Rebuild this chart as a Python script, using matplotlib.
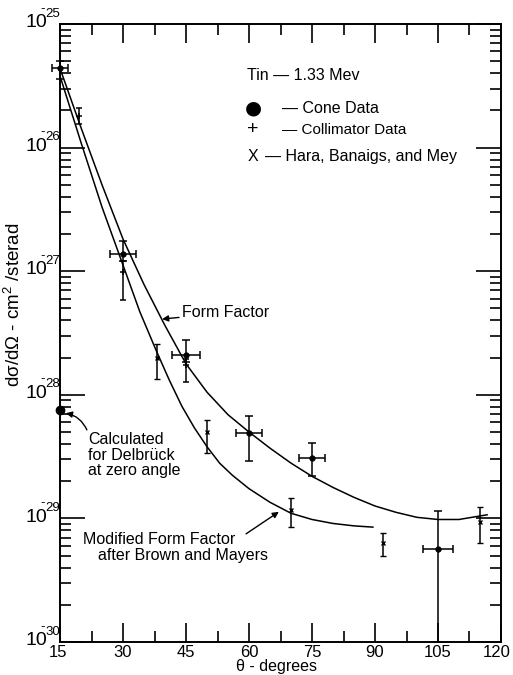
import matplotlib
matplotlib.use('Agg')
import matplotlib.pyplot as plt
import numpy as np
from matplotlib.ticker import FixedLocator, NullFormatter, LogLocator

plt.rcParams['font.family'] = ['Liberation Sans', 'DejaVu Sans']
plt.rcParams['mathtext.fontset'] = 'custom'
plt.rcParams['mathtext.rm'] = 'Liberation Sans'
plt.rcParams['mathtext.it'] = 'Liberation Sans:italic'
plt.rcParams['mathtext.bf'] = 'Liberation Sans:bold'

# ---------------- data ----------------
cone_theta = [15, 30, 45, 60, 75, 105]
cone_val = [4.4e-26, 1.38e-27, 2.1e-28, 4.9e-29, 3.1e-29, 5.7e-30]
cone_hi = [5.0e-26, 1.74e-27, 2.8e-28, 6.7e-29, 4.1e-29, 1.15e-29]
cone_lo = [3.6e-26, 1.2e-27, 1.85e-28, 2.9e-29, 2.2e-29, 1.0e-30]
cone_dtheta = [1.8, 3.0, 3.3, 3.1, 3.1, 3.6]

coll_theta = [19.5, 30, 45]
coll_val = [1.8e-26, 9.9e-28, 1.74e-28]
coll_hi = [2.1e-26, 1.2e-27, 1.95e-28]
coll_lo = [1.55e-26, 5.9e-28, 1.26e-28]

hara_theta = [38, 50, 70, 92, 115]
hara_val = [2.0e-28, 5.0e-29, 1.17e-29, 6.3e-30, 9.3e-30]
hara_hi = [2.6e-28, 6.3e-29, 1.47e-29, 7.6e-30, 1.23e-29]
hara_lo = [1.35e-28, 3.4e-29, 8.5e-30, 5.0e-30, 6.3e-30]

delbruck_theta = [15]
delbruck_val = [7.6e-29]

ff_theta = [15, 20, 25, 30, 35, 40, 45, 50, 55, 60, 65, 70, 75, 80, 85, 90, 95, 100, 105, 110, 116.7]
ff_val = [4.37e-26, 1.45e-26, 5.0e-27, 1.82e-27, 7.8e-28, 3.63e-28, 1.78e-28, 1.05e-28, 6.9e-29,
          5.0e-29, 3.7e-29, 2.8e-29, 2.19e-29, 1.78e-29, 1.48e-29, 1.26e-29, 1.12e-29, 1.02e-29,
          9.8e-30, 9.8e-30, 1.07e-29]

mff_theta = [15, 20, 25, 30, 34, 38, 41, 44, 47, 50, 53, 56, 60, 65, 70, 75, 80, 85, 89.5]
mff_val = [3.8e-26, 1.1e-26, 3.3e-27, 1.12e-27, 4.7e-28, 2.24e-28, 1.32e-28, 8.1e-29, 5.4e-29,
           3.8e-29, 2.8e-29, 2.24e-29, 1.74e-29, 1.35e-29, 1.1e-29, 9.8e-30, 9.1e-30, 8.7e-30, 8.5e-30]

x_ticks = [15, 30, 45, 60, 75, 90, 105, 120]
x_ticklabels = ['15', '30', '45', '60', '75', '90', '105', '120']
y_decades = [1e-30, 1e-29, 1e-28, 1e-27, 1e-26, 1e-25]
y_exponents = ['30', '29', '28', '27', '26', '25']

# ---------------- figure ----------------
fig = plt.figure(figsize=(5.13, 6.75), dpi=100)
ax = fig.add_axes([0.117, 0.0489, 0.8596, 0.9155])
ax.set_yscale('log')
ax.set_xlim(15, 120)
ax.set_ylim(1e-30, 1e-25)

lw = 1.1
ax.plot(ff_theta, ff_val, color='black', lw=lw)
ax.plot(mff_theta, mff_val, color='black', lw=lw)

def asym(v, lo, hi):
    v = np.array(v); return [v - np.array(lo), np.array(hi) - v]

ax.errorbar(cone_theta, cone_val, yerr=asym(cone_val, cone_lo, cone_hi),
            xerr=cone_dtheta, fmt='o', ms=3.5, color='black', ecolor='black',
            elinewidth=1.1, capsize=3, capthick=1.1, clip_on=False)
ax.errorbar(coll_theta, coll_val, yerr=asym(coll_val, coll_lo, coll_hi),
            fmt='+', ms=5, mew=1.1, color='black', elinewidth=1.1, capsize=2.2, capthick=1.1)
ax.errorbar(hara_theta, hara_val, yerr=asym(hara_val, hara_lo, hara_hi),
            fmt='x', ms=3, mew=1.0, color='black', elinewidth=1.1, capsize=2.2, capthick=1.1)
ax.plot(delbruck_theta, delbruck_val, 'o', ms=6, color='black', clip_on=False, zorder=5)

# ticks
ax.xaxis.set_major_locator(FixedLocator(x_ticks))
ax.xaxis.set_minor_locator(FixedLocator([t + 7.5 for t in x_ticks[:-1]]))
ax.yaxis.set_major_locator(FixedLocator(y_decades))
ax.yaxis.set_minor_locator(LogLocator(base=10, subs=np.arange(2, 10), numticks=50))
ax.yaxis.set_minor_formatter(NullFormatter())
ax.tick_params(which='both', direction='in', top=True, right=True, width=1.2,
               labelleft=False, labelbottom=False)
ax.tick_params(axis='x', which='major', length=14)
ax.tick_params(axis='x', which='minor', length=8)
ax.tick_params(axis='y', which='major', length=18)
ax.tick_params(axis='y', which='minor', length=8)
for s in ax.spines.values():
    s.set_linewidth(1.4)

# manual tick labels (offsets in points; 1 px = 0.72 pt)
for xv, lab in zip(x_ticks, x_ticklabels):
    dx = -3.0 if lab == '120' else (-1.2 if lab == '15' else 0)
    ax.annotate(lab, xy=(xv, 0), xycoords=('data', 'axes fraction'),
                xytext=(dx, -2.2), textcoords='offset points', ha='center', va='top',
                fontsize=12, annotation_clip=False)
for yv, ex in zip(y_decades, y_exponents):
    ax.annotate('10', xy=(0, yv), xycoords=('axes fraction', 'data'),
                xytext=(-9.4, 1.0), textcoords='offset points', ha='right', va='center',
                fontsize=14, annotation_clip=False)
    ax.annotate(ex, xy=(0, yv), xycoords=('axes fraction', 'data'),
                xytext=(-10.5, 7.5), textcoords='offset points', ha='left', va='center',
                fontsize=9.5, annotation_clip=False)
    ax.annotate('-', xy=(0, yv), xycoords=('axes fraction', 'data'),
                xytext=(-12.6, 11.0), textcoords='offset points', ha='center', va='center',
                fontsize=9.5, annotation_clip=False)

ax.set_xlabel('θ - degrees', fontsize=11.5)
ax.xaxis.set_label_coords(0.49, -0.0275)
ax.set_ylabel('dσ/dΩ - cm$^2$ /sterad', fontsize=13.5)
ax.yaxis.set_label_coords(-0.081, 0.545)

fs = 11.5
# legend block
ax.text(0.424, 0.917, 'Tin — 1.33 Mev', transform=ax.transAxes, fontsize=fs, va='center', ha='left')
ax.text(0.4376, 0.864, '●', transform=ax.transAxes, fontsize=14, va='center', ha='center',
        family=['DejaVu Sans'])
ax.text(0.503, 0.864, '— Cone Data', transform=ax.transAxes, fontsize=fs, va='center', ha='left')
ax.text(0.4376, 0.829, '+', transform=ax.transAxes, fontsize=14, va='center', ha='center')
ax.text(0.503, 0.829, '— Collimator Data', transform=ax.transAxes, fontsize=11, va='center', ha='left')
ax.text(0.4376, 0.785, 'X', transform=ax.transAxes, fontsize=fs, va='center', ha='center')
ax.text(0.465, 0.785, '— Hara, Banaigs, and Mey', transform=ax.transAxes, fontsize=fs, va='center', ha='left')

# annotations
ax.annotate('Form Factor', xy=(39.3, 4.1e-28), xytext=(44.0, 4.6e-28), fontsize=fs,
            va='center', ha='left',
            arrowprops=dict(arrowstyle='-|>', color='black', lw=1.0, mutation_scale=9,
                            shrinkA=0, shrinkB=0))
ax.text(21.7, 3.24e-29, 'Calculated\nfor Delbrück\nat zero angle', fontsize=fs, va='center',
        ha='left', linespacing=1.05)
ax.annotate('', xy=(16.4, 7.1e-29), xytext=(21.4, 5.2e-29),
            arrowprops=dict(arrowstyle='-|>', color='black', lw=1.0, mutation_scale=9,
                            shrinkA=0, shrinkB=0, connectionstyle='arc3,rad=0.25'))
ax.text(20.5, 6.8e-30, 'Modified Form Factor', fontsize=fs, va='center', ha='left')
ax.text(24.0, 5.0e-30, 'after Brown and Mayers', fontsize=fs, va='center', ha='left')
ax.annotate('', xy=(67.1, 1.13e-29), xytext=(59.3, 7.5e-30),
            arrowprops=dict(arrowstyle='-|>', color='black', lw=1.0, mutation_scale=9,
                            shrinkA=0, shrinkB=0))

fig.savefig('out.png', dpi=100)
